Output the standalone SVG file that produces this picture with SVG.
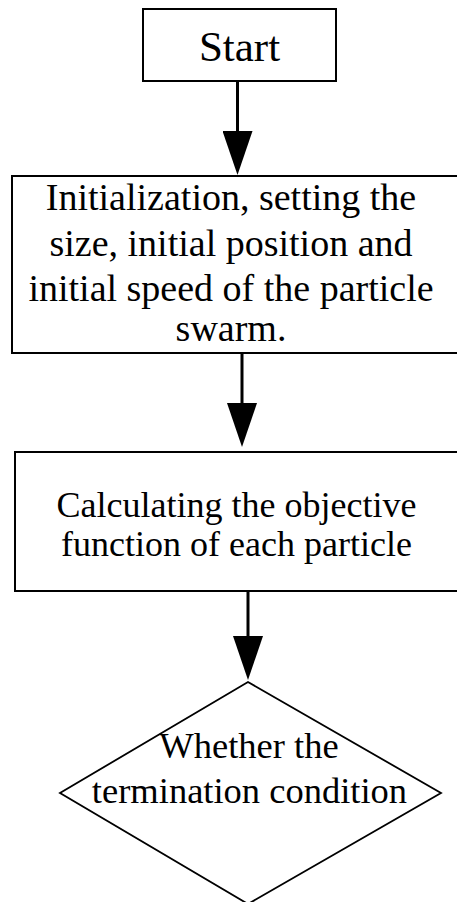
<svg xmlns="http://www.w3.org/2000/svg" width="457" height="902" viewBox="0 0 457 902">
<style>
.box{fill:#fff;stroke:#000;stroke-width:2}
.dia{fill:#fff;stroke:#000;stroke-width:1.8}
.lbl{font-family:"Liberation Serif","Times New Roman",serif;fill:#000;text-anchor:middle}
.conn{stroke:#000;stroke-width:3;fill:none}
</style>
<defs>
<marker id="ah" viewBox="0 0 44 30" refX="0" refY="15" markerWidth="44" markerHeight="30" markerUnits="userSpaceOnUse" orient="auto">
<path d="M0,0 L44,15 L0,30 z" fill="#000"/>
</marker>
</defs>
<g id="connectors">
<line class="conn" x1="237.5" y1="82" x2="237.5" y2="131" marker-end="url(#ah)"/>
<line class="conn" x1="242" y1="354" x2="242" y2="403" marker-end="url(#ah)"/>
<line class="conn" x1="248" y1="592" x2="248" y2="636" marker-end="url(#ah)"/>
</g>
<g id="start">
<rect class="box" x="143" y="9" width="193" height="72"/>
<text class="lbl" x="239.5" y="61" font-size="43">Start</text>
</g>
<g id="init">
<rect class="box" x="12" y="176" width="450" height="177"/>
<text class="lbl" font-size="38"><tspan x="231" y="210">Initialization, setting the</tspan><tspan x="231" y="256">size, initial position and</tspan><tspan x="231" y="301">initial speed of the particle</tspan><tspan x="231" y="341">swarm.</tspan></text>
</g>
<g id="calc">
<rect class="box" x="15" y="452" width="447" height="139"/>
<text class="lbl" font-size="36"><tspan x="236.5" y="517">Calculating the objective</tspan><tspan x="236.5" y="556">function of each particle</tspan></text>
</g>
<g id="decision">
<polygon class="dia" points="248,682 441,793 248,904 60,793"/>
<text class="lbl" font-size="36.5"><tspan x="249" y="758">Whether the</tspan><tspan x="249.5" y="803">termination condition</tspan></text>
</g>
</svg>
